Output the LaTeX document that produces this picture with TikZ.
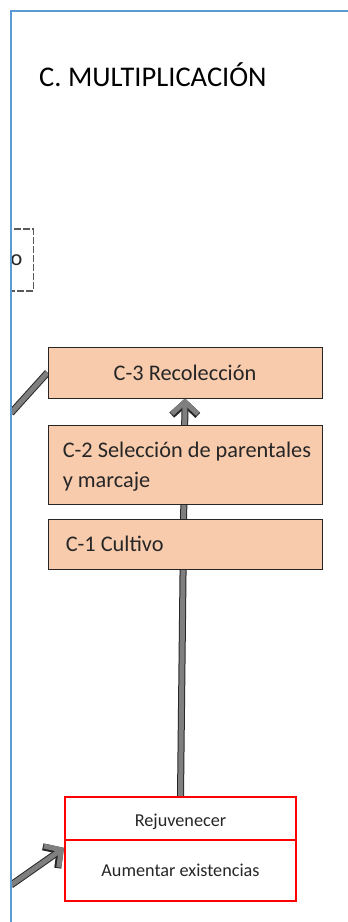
\documentclass[tikz,border=0pt]{standalone}
\usepackage{fontspec}
\setmainfont{Carlito}
\usetikzlibrary{arrows.meta,backgrounds}
\definecolor{peach}{HTML}{F8CBAD}
\definecolor{frameblue}{HTML}{5B9BD5}
\definecolor{txt}{HTML}{262626}
\definecolor{arrowgray}{HTML}{7F7F7F}
\definecolor{arrowline}{HTML}{262626}
\definecolor{boxline}{HTML}{262626}
\definecolor{dashgray}{HTML}{595959}
\begin{document}
\begin{tikzpicture}[x=1pt,y=-1pt,
  frameline/.style={draw=frameblue, line width=1.4pt},
  peachbox/.style={draw=boxline, fill=peach, line width=0.9pt, minimum width=274pt, inner sep=0pt},
  boxtext/.style={font=\fontsize{22.3}{30}\selectfont, text=txt, inner sep=0pt},
  redbox/.style={draw=red, fill=white, line width=2pt, minimum width=231pt, inner sep=0pt, font=\fontsize{18.2}{22}\selectfont, text=txt},
  dashbox/.style={draw=dashgray, line width=1.2pt, dash pattern=on 7pt off 2pt, fill=white},
  garrow/.style={line width=5pt, draw=arrowgray,
     preaction={draw=arrowline, line width=7pt}},
  garrowtip/.style={line width=5pt, draw=arrowgray, -{Straight Barb[length=12pt,width=26pt]},
     preaction={draw=arrowline, line width=7pt, -{Straight Barb[length=12pt,width=26pt]}}}
]
\useasboundingbox (0,0) rectangle (348,922);

% title
\node[anchor=base west, inner sep=0pt, font=\fontsize{28.5}{34}\selectfont, text=black] (title) at (39,86) {C. MULTIPLICACIÓN};

% boxes
\node[peachbox, minimum height=51pt] (c3) at (185,372.5) {};
\node[boxtext] (c3t) at (c3.center) {C-3 Recolección};
\node[peachbox, minimum height=79pt] (c2) at (185,464.5) {};
\node[boxtext, anchor=west, align=left] (c2t) at ([xshift=15pt,yshift=-2pt]c2.west) {C-2 Selección de parentales\\y marcaje};
\node[peachbox, minimum height=50pt] (c1) at (185,544) {};
\node[boxtext, anchor=west] (c1t) at ([xshift=18pt]c1.west) {C-1 Cultivo};
\node[redbox, minimum height=43pt, text depth=0pt, text height=15pt] (rej) at (180.5,818.5) {Rejuvenecer};
\node[redbox, minimum height=61pt] (aum) at (180.5,870.5) {Aumentar existencias};

% clipped partial box at left edge
\begin{scope}
  \clip (11.5,0) rectangle (348,922);
  \node[dashbox, boxtext, minimum height=62pt, inner xsep=11pt, text width=30pt, align=right, anchor=east] (dbox) at (34,260) {o};
\end{scope}

% connectors behind the boxes
\coordinate (s1) at (11,413);
\coordinate (s2) at (11,885);
\begin{scope}[on background layer]
  \clip (11.5,0) rectangle (348,922);
  \draw[garrow] (s1) -- (c3.west);
  \draw[garrowtip] (s2) -- (aum.169);
  \draw[garrowtip] (rej.north) -- (c3.south);
\end{scope}

% frame
\draw[frameline] (11,922) -- (11,11) -- (348,11);
\end{tikzpicture}
\end{document}
